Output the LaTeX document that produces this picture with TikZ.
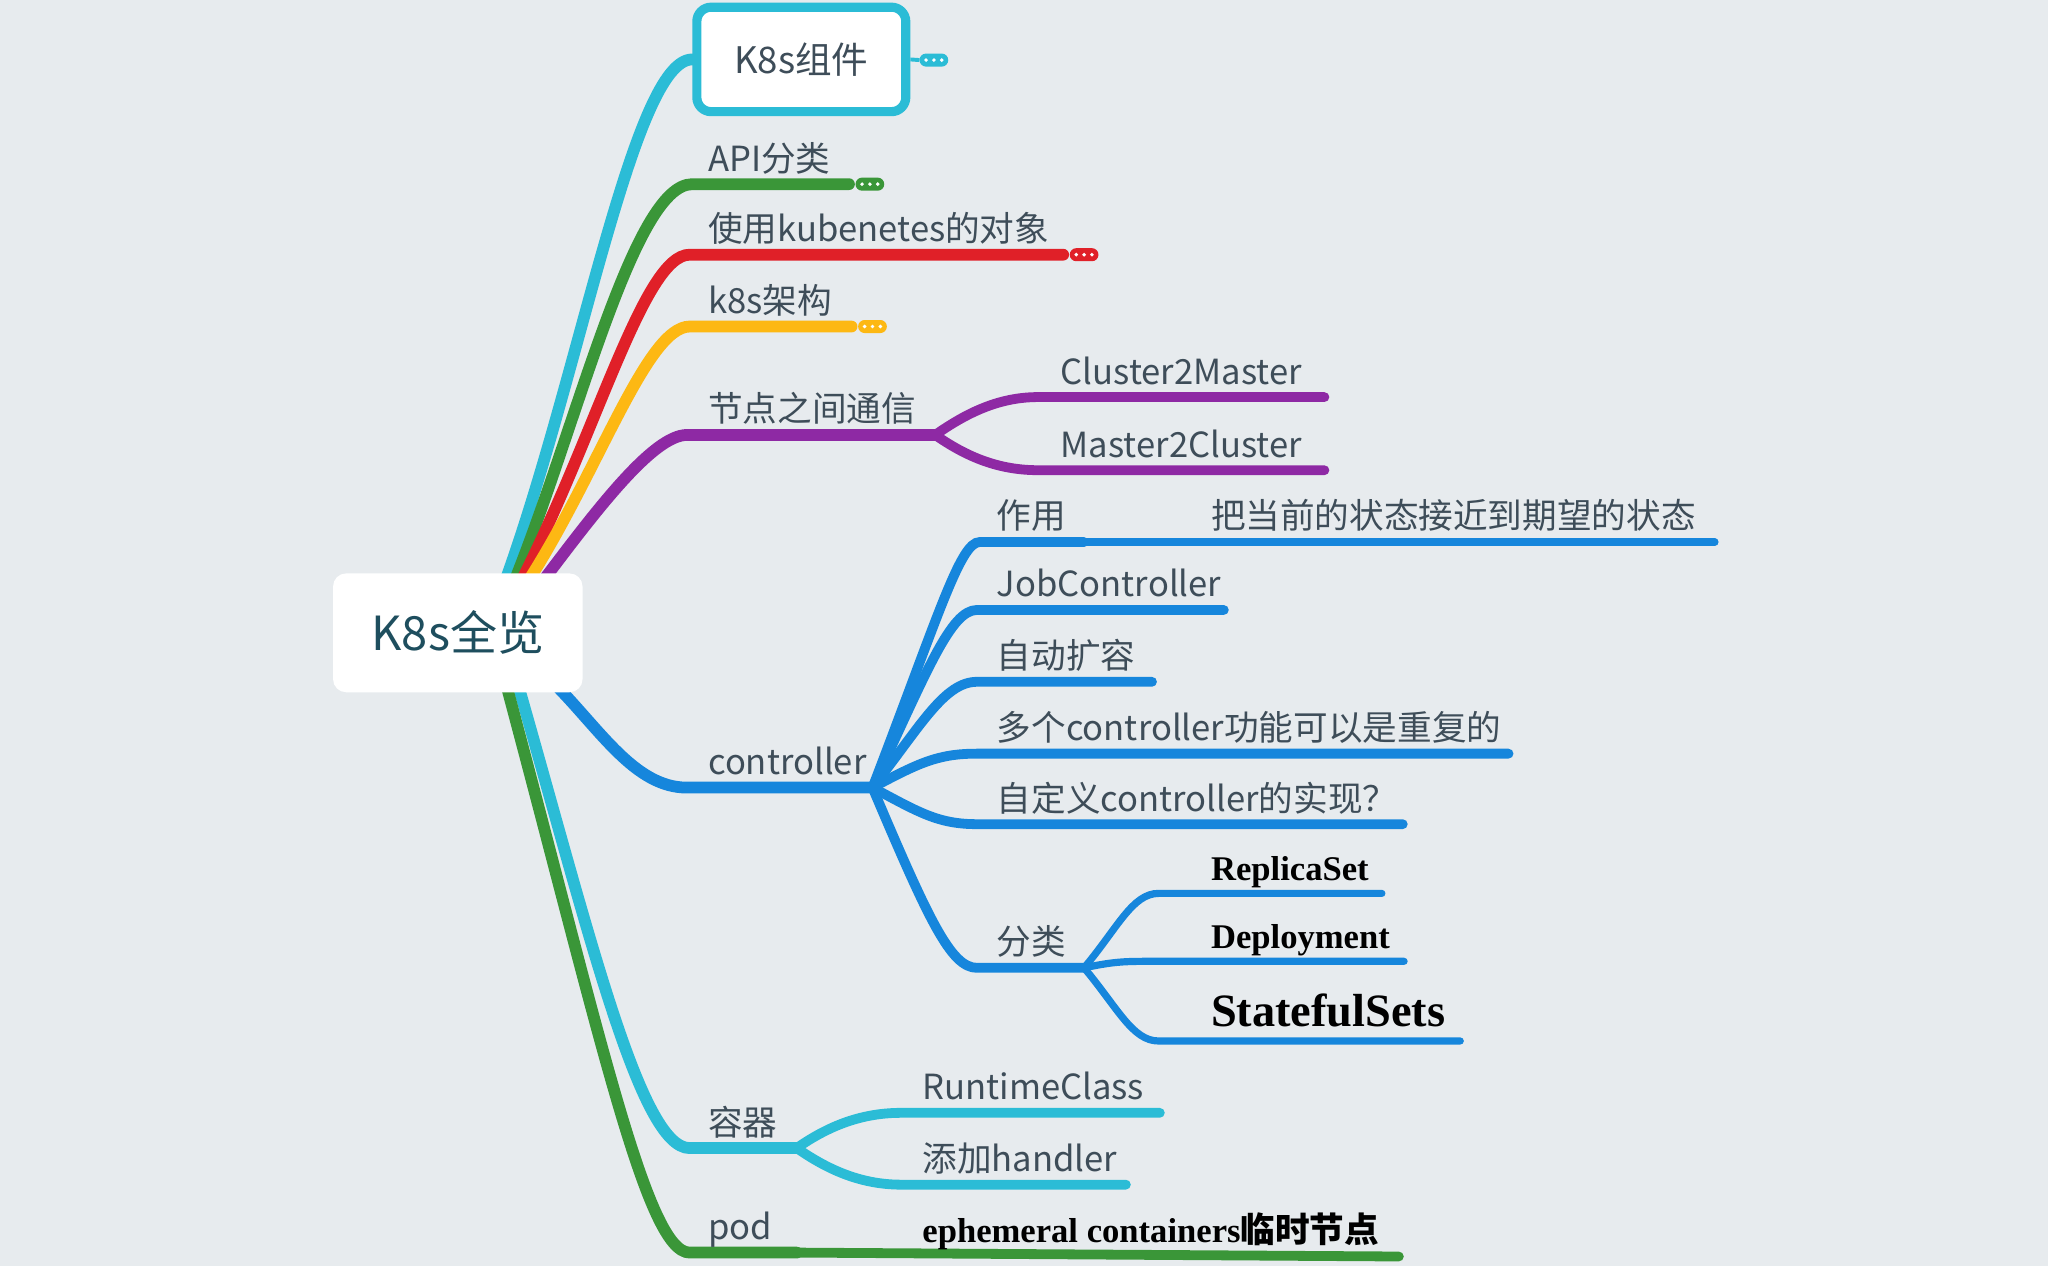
\documentclass[tikz,border=0pt]{standalone}
\usepackage{fontspec}
\setmainfont{Noto Sans CJK SC}
\newfontfamily\timesb{Liberation Serif}
\definecolor{bg}{RGB}{231,235,238}
\definecolor{ccyan}{RGB}{43,188,214}
\definecolor{cgreen}{RGB}{58,150,56}
\definecolor{cred}{RGB}{224,32,40}
\definecolor{cyellow}{RGB}{253,184,19}
\definecolor{cpurple}{RGB}{142,41,164}
\definecolor{cblue}{RGB}{22,134,220}
\definecolor{txt}{RGB}{62,77,89}
\definecolor{roottxt}{RGB}{30,78,94}
\pgfdeclarelayer{bgzero}
\pgfdeclarelayer{lines}
\pgfsetlayers{bgzero,lines,main}
\newcommand{\pilldots}[1]{\foreach \dx in {-6,0,6} \fill[white] ([xshift=\dx pt]#1.center) circle (1.5pt);}
\begin{document}
\begin{tikzpicture}[x=1pt,y=-1pt,
  l1/.style={line width=9pt,line cap=round},
  l2/.style={line width=7.5pt,line cap=round},
  l3/.style={line width=5.5pt,line cap=round},
  lbl/.style={anchor=base west,inner sep=0pt,text=txt,font=\fontsize{26.5}{30}\selectfont},
  serifb/.style={anchor=base west,inner sep=0pt,text=black,font=\timesb\bfseries\fontsize{26.5}{30}\selectfont},
  pill/.style={rounded corners=5pt,minimum width=22pt,minimum height=10pt,inner sep=0pt,outer sep=0pt},
  crv/.style n args={3}{out=#1,out distance=#2pt,in=180,in distance=#3pt}
]
\begin{pgfonlayer}{bgzero}
\fill[bg] (0,0) rectangle (1568,969);
\end{pgfonlayer}
\useasboundingbox (0,0) rectangle (1568,969);

% root
\node[fill=white,rounded corners=10pt,minimum width=191pt,minimum height=91pt,inner sep=0pt,
      text=roottxt,font=\fontsize{36}{40}\selectfont] (root) at (350.5,484.5) {K8s全览};

% root branch start points (hidden under root)
\coordinate (rA) at (386,447);
\coordinate (rB) at (393,447);
\coordinate (rC) at (398,447);
\coordinate (rD) at (403,447);
\coordinate (rE) at (414,447);
\coordinate (rF) at (424,523);
\coordinate (rG) at (396,522);
\coordinate (rH) at (387,522);

% level 1
\node[draw=ccyan,line width=7pt,fill=white,rounded corners=11pt,minimum width=160pt,minimum height=80pt,
      inner sep=0pt,text=txt,font=\fontsize{28}{32}\selectfont] (k8s) at (613.5,45.5) {K8s组件};
\node[pill,fill=ccyan] (pk8s) at (715,46) {};

\coordinate (apiS) at (530,141); \coordinate (apiE) at (650,141);
\node[lbl] (api) at (542,131) {API分类};
\node[pill,fill=cgreen] (papi) at (666,141) {};

\coordinate (useS) at (528,195); \coordinate (useE) at (814,195);
\node[lbl] (use) at (542,185) {使用kubenetes的对象};
\node[pill,fill=cred] (puse) at (830,195) {};

\coordinate (archS) at (528,250); \coordinate (archE) at (652,250);
\node[lbl] (arch) at (542,240) {k8s架构};
\node[pill,fill=cyellow] (parch) at (668,250) {};

\coordinate (comS) at (526,333); \coordinate (comF) at (716,333);
\node[lbl] (com) at (542,323) {节点之间通信};

\coordinate (ctlS) at (526,603); \coordinate (ctlF) at (668,603);
\node[lbl] (ctl) at (542,593) {controller};

\coordinate (conS) at (528,879); \coordinate (conF) at (610,879);
\node[lbl] (con) at (542,869) {容器};

\coordinate (podS) at (528,959); \coordinate (podF) at (610,959);
\node[lbl] (pod) at (542,949) {pod};

% level 2: communication
\coordinate (c2mS) at (795,304); \coordinate (c2mE) at (1014,304);
\node[lbl] (c2m) at (812,294) {Cluster2Master};
\coordinate (m2cS) at (795,360); \coordinate (m2cE) at (1014,360);
\node[lbl] (m2c) at (812,350) {Master2Cluster};

% level 2: controller
\coordinate (zyS) at (750,415); \coordinate (zyF) at (830,415);
\node[lbl] (zy) at (763,405) {作用};
\coordinate (zycE) at (1313,415);
\node[lbl] (zyc) at (927,405) {把当前的状态接近到期望的状态};

\coordinate (jobS) at (748,467); \coordinate (jobE) at (937,467);
\node[lbl] (job) at (763,457) {JobController};
\coordinate (autoS) at (748,522); \coordinate (autoE) at (882,522);
\node[lbl] (auto) at (763,512) {自动扩容};
\coordinate (mulS) at (748,577); \coordinate (mulE) at (1155,577);
\node[lbl] (mul) at (763,567) {多个controller功能可以是重复的};
\coordinate (cusS) at (748,631); \coordinate (cusE) at (1074,631);
\node[lbl] (cus) at (763,621) {自定义controller的实现？};
\coordinate (flS) at (748,741); \coordinate (flF) at (830,741);
\node[lbl] (fl) at (763,731) {分类};

\coordinate (rsS) at (887,684); \coordinate (rsE) at (1058,684);
\node[serifb] (rs) at (927,674) {ReplicaSet};
\coordinate (depS) at (887,736); \coordinate (depE) at (1075,736);
\node[serifb] (dep) at (927,726) {Deployment};
\coordinate (stsS) at (887,797); \coordinate (stsE) at (1118,797);
\node[serifb,font=\timesb\bfseries\fontsize{35.5}{40}\selectfont] (sts) at (927,786) {StatefulSets};

% level 2: container
\coordinate (rtcS) at (690,852); \coordinate (rtcE) at (888,852);
\node[lbl] (rtc) at (706,842) {RuntimeClass};
\coordinate (hdlS) at (690,907); \coordinate (hdlE) at (862,907);
\node[lbl] (hdl) at (706,897) {添加handler};

% pod child
\coordinate (ephE) at (1071,962);
\node[serifb] (eph) at (706,951) {ephemeral containers{\rmfamily\bfseries 临时节点}};

% pill dots
\pilldots{pk8s}\pilldots{papi}\pilldots{puse}\pilldots{parch}

\begin{pgfonlayer}{lines}
% root branches
\draw[l1,ccyan] (rA) to[crv={70}{170}{45}] (k8s.west);
\draw[ccyan,line width=3pt] (k8s.east) -- (pk8s.west);
\draw[l1,cgreen] (rB) to[crv={68}{130}{45}] (apiS) -- (apiE);
\draw[l1,cred] (rC) to[crv={63}{130}{35}] (useS) -- (useE);
\draw[l1,cyellow] (rD) to[crv={57}{100}{33}] (archS) -- (archE);
\draw[l1,cpurple] (rE) to[crv={53}{70}{26}] (comS) -- (comF);
\draw[l1,cblue] (rF) to[crv={-45}{50}{40}] (ctlS) -- (ctlF);
\draw[l1,ccyan] (rG) to[crv={-74}{200}{38}] (conS) -- (conF);
\draw[l1,cgreen] (rH) to[crv={-75}{280}{33}] (podS) -- (podF);
% communication
\draw[l2,cpurple] (comF) to[crv={35}{30}{30}] (c2mS) -- (c2mE);
\draw[l2,cpurple] (comF) to[crv={-35}{30}{30}] (m2cS) -- (m2cE);
% controller
\draw[l2,cblue] (ctlF) to[crv={69}{140}{15}] (zyS) -- (zyF);
\draw[l3,cblue] (zyF) -- (zycE);
\draw[l2,cblue] (ctlF) to[crv={65}{100}{20}] (jobS) -- (jobE);
\draw[l2,cblue] (ctlF) to[crv={52}{60}{25}] (autoS) -- (autoE);
\draw[l2,cblue] (ctlF) to[crv={28}{40}{30}] (mulS) -- (mulE);
\draw[l2,cblue] (ctlF) to[crv={-28}{40}{30}] (cusS) -- (cusE);
\draw[l2,cblue] (ctlF) to[crv={-67}{110}{20}] (flS) -- (flF);
\draw[l3,cblue] (flF) to[crv={50}{40}{20}] (rsS) -- (rsE);
\draw[l3,cblue] (flF) to[crv={12}{25}{25}] (depS) -- (depE);
\draw[l3,cblue] (flF) to[crv={-50}{40}{20}] (stsS) -- (stsE);
% container
\draw[l2,ccyan] (conF) to[crv={35}{30}{30}] (rtcS) -- (rtcE);
\draw[l2,ccyan] (conF) to[crv={-35}{30}{30}] (hdlS) -- (hdlE);
% pod
\draw[l2,cgreen] (podF) -- (ephE);
\end{pgfonlayer}
\end{tikzpicture}
\end{document}
